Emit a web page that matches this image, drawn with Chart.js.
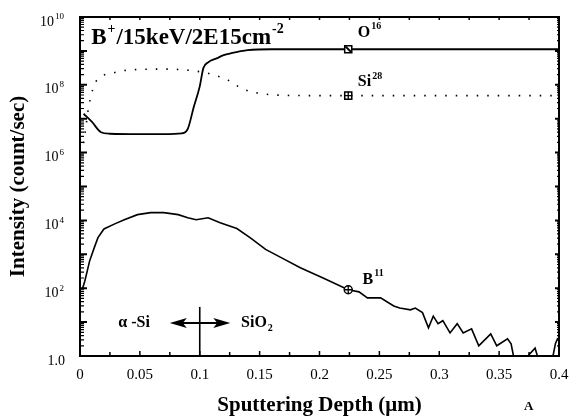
<!DOCTYPE html>
<html>
<head>
<meta charset="utf-8">
<script src="https://cdn.jsdelivr.net/npm/chart.js@4.4.0/dist/chart.umd.min.js"></script>
<style>
  html, body { margin: 0; padding: 0; background: #fff; }
  #wrap { width: 571px; height: 418px; }
</style>
</head>
<body>
<div id="wrap"><canvas id="sims"></canvas></div>
<script>
// SIMS depth profile, B+ 15keV 2E15 cm-2 (depth in um, intensity in count/sec)
const o16Depth = [0.003, 0.01, 0.0175, 0.025, 0.05, 0.07, 0.085, 0.09, 0.095, 0.1, 0.103, 0.107, 0.114, 0.12, 0.126, 0.14, 0.16, 0.25, 0.4];
const o16Counts = [1.4e7, 8e6, 4e6, 3.6e6, 3.5e6, 3.5e6, 3.7e6, 5e6, 2.2e7, 9e7, 3.1e8, 4.6e8, 6e8, 7.5e8, 8.5e8, 1.05e9, 1.12e9, 1.12e9, 1.12e9];

const si28Depth = [0.003, 0.005, 0.007, 0.012, 0.017, 0.027, 0.036, 0.046, 0.065, 0.085, 0.094, 0.104, 0.113, 0.124, 0.132, 0.142, 0.152, 0.162, 0.2, 0.3, 0.4];
const si28Counts = [1.9e6, 6e6, 2e7, 1e8, 1.7e8, 2.2e8, 2.6e8, 2.8e8, 2.9e8, 2.8e8, 2.6e8, 2.3e8, 1.9e8, 1.35e8, 9e7, 6.3e7, 5.5e7, 5e7, 4.8e7, 4.8e7, 4.8e7];

const b11Depth = [0.002, 0.004, 0.008, 0.012, 0.015, 0.02, 0.029, 0.037, 0.048, 0.059, 0.07, 0.082, 0.09, 0.097, 0.107, 0.117, 0.131, 0.142, 0.155, 0.168, 0.184, 0.203, 0.224, 0.233, 0.24, 0.251, 0.262, 0.267, 0.276, 0.28, 0.286, 0.291, 0.295, 0.299, 0.303, 0.309, 0.315, 0.32, 0.327, 0.333, 0.343, 0.348, 0.357, 0.36, 0.362, 0.368, 0.374, 0.38, 0.382, 0.388, 0.395, 0.397, 0.399];
const b11Counts = [95, 160, 630, 1600, 3100, 5600, 7900, 10500, 14800, 17000, 17000, 14800, 12000, 10500, 12000, 8500, 5750, 3100, 1400, 800, 400, 200, 90, 78, 52, 52, 30, 26, 23, 26, 19, 6.8, 15, 9, 11, 4.8, 9, 4.8, 6.3, 2.0, 4.5, 2.0, 3.2, 2.3, 1.0, null, 1.0, 1.7, 1.0, null, 1.0, 2.3, 3.4];

// species markers on the curves
const markerDepth = 0.224;
const o16Marker = 1.12e9;
const si28Marker = 4.8e7;
const b11Marker = 90;

// axis ticks
const xTickValues = [0, 0.05, 0.1, 0.15, 0.2, 0.25, 0.3, 0.35, 0.4];
const xTickLabels = ['0', '0.05', '0.1', '0.15', '0.2', '0.25', '0.3', '0.35', '0.4'];
const yTickValues = [1, 1e2, 1e4, 1e6, 1e8, 1e10];
const yTickLabels = ['1.0', '10^2', '10^4', '10^6', '10^8', '10^10'];

const SERIF = '"Liberation Serif", "Times New Roman", serif';

function toPoints(xs, ys) {
    return xs.map((x, i) => ({ x: x, y: ys[i] }));
}

function partFont(p, size, weight) {
    const small = p.sup || p.sub;
    return weight + ' ' + (small ? Math.round(size * 0.62) : size) + 'px ' + SERIF;
}

function partsWidth(ctx, parts, size, weight) {
    let w = 0;
    parts.forEach(p => {
        ctx.font = partFont(p, size, weight);
        w += ctx.measureText(p.t).width + (p.sup || p.sub ? 2 : 0);
    });
    return w;
}

// draw text with super/subscripts, left aligned, middle baseline
function drawParts(ctx, x, y, parts, size, weight) {
    weight = weight || 'bold';
    parts.forEach(p => {
        const small = p.sup || p.sub;
        ctx.font = partFont(p, size, weight);
        const dy = p.sup ? -size * 0.36 : (p.sub ? size * 0.32 : 0);
        ctx.fillText(p.t, x + (small ? 1 : 0), y + dy);
        x += ctx.measureText(p.t).width + (small ? 2 : 0);
    });
}

const framePlugin = {
    id: 'frame',
    afterDraw(chart) {
        const ctx = chart.ctx;
        const a = chart.chartArea;
        const xs = chart.scales.x;
        const ys = chart.scales.y;
        ctx.save();
        ctx.strokeStyle = '#000';
        ctx.fillStyle = '#000';

        // box
        ctx.lineWidth = 2;
        ctx.strokeRect(a.left, a.top, a.right - a.left, a.bottom - a.top);

        // x ticks, inward, bottom and top
        ctx.lineWidth = 1.5;
        for (let i = 0; i <= 16; i++) {
            const px = xs.getPixelForValue(i * 0.025);
            const len = i % 2 === 0 ? 5 : 4;
            ctx.beginPath();
            ctx.moveTo(px, a.bottom);
            ctx.lineTo(px, a.bottom - len);
            ctx.moveTo(px, a.top);
            ctx.lineTo(px, a.top + 3);
            ctx.stroke();
        }

        // y ticks, log decades with minors, left and right
        for (let d = 0; d < 10; d++) {
            for (let m = 1; m <= 9; m++) {
                const py = ys.getPixelForValue(m * Math.pow(10, d));
                const len = m === 1 ? 7 : 4;
                ctx.lineWidth = m === 1 ? 2 : 1.2;
                ctx.beginPath();
                ctx.moveTo(a.left, py);
                ctx.lineTo(a.left + len, py);
                ctx.moveTo(a.right, py);
                ctx.lineTo(a.right - (m === 1 ? 4 : 2), py);
                ctx.stroke();
            }
        }

        // y tick labels with superscript exponents
        ctx.textBaseline = 'middle';
        ctx.textAlign = 'left';
        yTickValues.forEach((v, i) => {
            const s = yTickLabels[i].split('^');
            const parts = s.length > 1 ? [{ t: s[0] }, { t: s[1], sup: true }] : [{ t: s[0] }];
            const w = partsWidth(ctx, parts, 14, 'normal');
            drawParts(ctx, a.left - 15 - w, ys.getPixelForValue(v) + 5, parts, 14, 'normal');
        });

        // interface marker: vertical line at 0.1 um and double arrow
        const xi = xs.getPixelForValue(0.1);
        const yTop = ys.getPixelForValue(28);
        ctx.lineWidth = 1.6;
        ctx.beginPath();
        ctx.moveTo(xi, a.bottom);
        ctx.lineTo(xi, yTop);
        ctx.stroke();

        const ya = ys.getPixelForValue(9.4);
        const xl = xs.getPixelForValue(0.075);
        const xr = xs.getPixelForValue(0.1255);
        ctx.lineWidth = 2.2;
        ctx.beginPath();
        ctx.moveTo(xl + 8, ya);
        ctx.lineTo(xr - 8, ya);
        ctx.stroke();
        ctx.beginPath();
        ctx.moveTo(xl, ya);
        ctx.lineTo(xl + 17, ya - 5);
        ctx.lineTo(xl + 13, ya);
        ctx.lineTo(xl + 17, ya + 5);
        ctx.closePath();
        ctx.fill();
        ctx.beginPath();
        ctx.moveTo(xr, ya);
        ctx.lineTo(xr - 17, ya - 5);
        ctx.lineTo(xr - 13, ya);
        ctx.lineTo(xr - 17, ya + 5);
        ctx.closePath();
        ctx.fill();

        // text labels
        drawParts(ctx, xs.getPixelForValue(0.0093), ys.getPixelForValue(2.4e9),
            [{ t: 'B' }, { t: '+', sup: true }, { t: '/15keV/2E15cm' }, { t: '-2', sup: true }], 23);
        drawParts(ctx, xs.getPixelForValue(0.232), ys.getPixelForValue(3.5e9),
            [{ t: 'O' }, { t: '16', sup: true }], 16);
        drawParts(ctx, xs.getPixelForValue(0.232), ys.getPixelForValue(1.2e8),
            [{ t: 'Si' }, { t: '28', sup: true }], 16);
        drawParts(ctx, xs.getPixelForValue(0.236), ys.getPixelForValue(180),
            [{ t: 'B' }, { t: '11', sup: true }], 16);
        drawParts(ctx, xs.getPixelForValue(0.032), ya, [{ t: 'α -Si' }], 16);
        drawParts(ctx, xs.getPixelForValue(0.1345), ya, [{ t: 'SiO' }, { t: '2', sub: true }], 16);

        ctx.font = 'bold 13px ' + SERIF;
        ctx.fillText('A', 524, 407);
        ctx.restore();
    }
};

const chart = new Chart(document.getElementById('sims'), {
    type: 'line',
    data: {
        datasets: [
            {
                label: 'O16',
                data: toPoints(o16Depth, o16Counts),
                borderColor: '#000',
                borderWidth: 1.8,
                pointRadius: 0,
                cubicInterpolationMode: 'monotone',
                order: 5
            },
            {
                label: 'Si28',
                data: toPoints(si28Depth, si28Counts),
                borderColor: '#000',
                borderWidth: 1.6,
                borderDash: [1.5, 9],
                pointRadius: 0,
                cubicInterpolationMode: 'monotone',
                order: 5
            },
            {
                label: 'B11',
                data: toPoints(b11Depth, b11Counts),
                borderColor: '#000',
                borderWidth: 1.6,
                pointRadius: 0,
                tension: 0,
                spanGaps: false,
                order: 5
            },
            {
                label: 'box',
                data: [{ x: markerDepth, y: o16Marker }, { x: markerDepth, y: si28Marker }],
                showLine: false,
                pointStyle: 'rect',
                pointRadius: 5,
                pointBorderWidth: 1.5,
                pointBorderColor: '#000',
                pointBackgroundColor: '#fff',
                order: 3
            },
            {
                label: 'ring',
                data: [{ x: markerDepth, y: b11Marker }],
                showLine: false,
                pointStyle: 'circle',
                pointRadius: 4,
                pointBorderWidth: 1.5,
                pointBorderColor: '#000',
                pointBackgroundColor: '#fff',
                order: 3
            },
            {
                label: 'slash',
                data: [{ x: markerDepth, y: o16Marker }],
                showLine: false,
                pointStyle: 'line',
                pointRotation: 45,
                pointRadius: 4,
                pointBorderWidth: 2,
                pointBorderColor: '#000',
                order: 1
            },
            {
                label: 'cross',
                data: [{ x: markerDepth, y: si28Marker }, { x: markerDepth, y: b11Marker }],
                showLine: false,
                pointStyle: 'cross',
                pointRadius: 4,
                pointBorderWidth: 1.3,
                pointBorderColor: '#000',
                order: 1
            }
        ]
    },
    options: {
        responsive: true,
        maintainAspectRatio: false,
        animation: false,
        events: [],
        layout: { padding: { top: 17, right: 12, left: 0, bottom: 0 } },
        plugins: {
            legend: { display: false },
            tooltip: { enabled: false }
        },
        scales: {
            x: {
                type: 'linear',
                min: 0,
                max: 0.4,
                afterBuildTicks: s => { s.ticks = xTickValues.map(v => ({ value: v })); },
                afterFit: s => { s.height = 62; s.paddingLeft = 0; s.paddingRight = 0; },
                ticks: {
                    callback: (v, i) => xTickLabels[i],
                    autoSkip: false,
                    maxRotation: 0,
                    padding: 10,
                    color: '#000',
                    font: { family: SERIF, size: 15 }
                },
                grid: { display: false, drawTicks: false, tickLength: 0 },
                border: { display: false },
                title: {
                    display: true,
                    text: 'Sputtering Depth (μm)',
                    color: '#000',
                    font: { family: SERIF, size: 21, weight: 'bold' },
                    padding: { top: 12, bottom: 0 }
                }
            },
            y: {
                type: 'logarithmic',
                min: 1,
                max: 1e10,
                afterFit: s => { s.width = 80; s.paddingTop = 0; s.paddingBottom = 0; },
                ticks: { display: false },
                grid: { display: false, drawTicks: false, tickLength: 0 },
                border: { display: false },
                title: {
                    display: true,
                    text: 'Intensity (count/sec)',
                    color: '#000',
                    font: { family: SERIF, size: 21, weight: 'bold' },
                    padding: { top: 6, bottom: 0 }
                }
            }
        }
    },
    plugins: [framePlugin]
});
</script>
</body>
</html>
